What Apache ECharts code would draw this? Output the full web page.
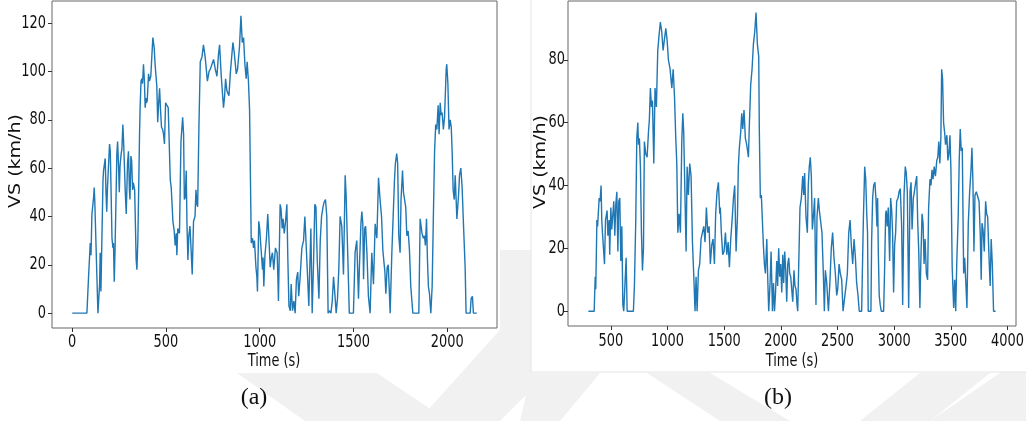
<!DOCTYPE html>
<html>
<head>
<meta charset="utf-8">
<script src="https://cdn.jsdelivr.net/npm/echarts@6/dist/echarts.min.js"></script>
<style>
  html, body { margin: 0; padding: 0; background: #fff; }
  #chart { width: 1026px; height: 421px; }
</style>
</head>
<body>
<div id="chart"></div>
<script>
////////////////////
// data (a)
////////////////////
var timeA = [0,78,80,87,96,100,105,114,117,120,124,137,146,149,153,158,164,167,176,180,184,188,199,203,212,217,220,224,228,238,242,247,251,255,261,265,270,274,283,288,295,300,305,308,313,317,322,326,333,341,345,350,359,362,367,371,375,380,385,389,394,396,400,407,412,419,430,437,442,451,456,461,466,471,476,482,487,492,498,505,512,523,528,537,544,549,555,558,563,568,572,580,589,594,598,603,608,612,617,622,628,633,640,647,655,660,665,669,676,683,692,700,709,721,730,737,742,754,763,772,780,786,795,807,813,818,825,836,843,857,864,875,882,892,900,907,914,921,928,933,940,946,955,962,967,972,980,985,988,995,1000,1006,1015,1018,1022,1028,1036,1043,1048,1056,1062,1068,1075,1084,1093,1097,1100,1109,1114,1120,1125,1131,1138,1145,1150,1156,1163,1168,1175,1182,1189,1196,1203,1208,1215,1225,1234,1241,1248,1255,1262,1268,1273,1280,1287,1294,1300,1307,1316,1323,1330,1338,1344,1351,1358,1365,1372,1380,1387,1394,1401,1408,1415,1422,1429,1438,1447,1456,1461,1474,1478,1500,1509,1514,1518,1527,1532,1540,1545,1550,1554,1560,1565,1572,1580,1589,1598,1607,1616,1625,1634,1642,1650,1657,1663,1668,1673,1680,1686,1696,1705,1714,1719,1724,1731,1736,1742,1749,1754,1762,1767,1774,1779,1785,1792,1799,1806,1817,1849,1856,1861,1866,1873,1879,1884,1890,1895,1900,1906,1913,1920,1927,1933,1939,1945,1952,1957,1963,1968,1973,1980,1986,1991,1995,1998,2004,2010,2016,2022,2027,2032,2038,2043,2052,2061,2066,2073,2080,2087,2096,2101,2123,2128,2135,2140,2158];
var speedA = [0,0,3,15,29,24,41,48,52,47,47,0,12,25,9,9,55,59,64,50,42,52,70,67,31,27,29,13,25,66,71,61,50,61,66,68,78,71,50,41,62,67,51,47,65,63,51,54,51,22,18,30,74,85,96,97,95,103,96,85,89,87,88,99,96,98,114,110,103,94,79,87,93,84,77,76,74,70,87,86,85,55,52,38,34,28,33,24,35,34,33,71,81,74,47,48,59,37,22,32,36,28,16,38,40,51,45,44,78,104,106,111,106,96,100,101,101,105,101,98,107,111,98,85,90,97,92,90,99,112,108,99,101,110,123,112,114,103,97,104,96,84,29,31,27,30,19,15,9,38,35,28,18,23,11,24,31,41,33,19,23,25,18,27,25,15,5,45,43,35,39,33,38,45,23,3,1,12,1,5,0,14,17,7,14,27,30,40,40,16,3,21,35,0,20,45,44,22,6,30,40,44,46,47,40,0,1,0,5,15,8,0,6,18,40,36,16,57,49,12,0,0,25,28,30,6,19,37,42,37,14,35,36,25,7,0,25,12,37,31,56,47,40,26,21,17,8,19,20,0,25,25,55,62,66,62,32,25,47,59,50,50,44,32,34,26,11,0,0,39,36,33,31,32,28,39,22,11,8,0,11,42,67,78,76,86,74,87,82,83,76,81,92,101,103,95,76,80,77,66,51,47,57,39,49,57,60,52,37,19,0,0,6,7,0,0];

////////////////////
// data (b)
////////////////////
var timeB = [302,353,362,367,377,383,397,405,414,420,426,444,453,467,474,485,490,500,508,526,535,544,553,562,570,579,588,597,606,614,626,635,644,699,708,720,729,738,744,752,761,770,779,788,796,808,820,832,840,849,858,867,879,890,902,914,926,937,949,961,973,985,997,1008,1023,1038,1050,1062,1073,1082,1091,1102,1114,1126,1135,1143,1155,1164,1173,1184,1196,1208,1220,1232,1243,1252,1261,1273,1284,1296,1308,1320,1331,1343,1355,1367,1378,1390,1402,1414,1425,1437,1449,1461,1466,1475,1487,1499,1511,1523,1535,1546,1558,1570,1582,1593,1605,1617,1625,1634,1646,1655,1664,1675,1687,1699,1714,1722,1734,1746,1758,1770,1781,1793,1805,1810,1819,1828,1837,1846,1855,1864,1876,1884,1893,1905,1914,1926,1935,1944,1952,1964,1972,1981,1990,1999,2008,2017,2025,2034,2043,2052,2061,2070,2078,2087,2096,2105,2116,2125,2134,2143,2149,2158,2169,2181,2193,2202,2210,2222,2234,2242,2251,2260,2269,2278,2287,2298,2310,2319,2331,2340,2352,2363,2375,2384,2393,2405,2420,2434,2445,2457,2469,2481,2493,2502,2514,2525,2537,2549,2566,2575,2587,2599,2611,2622,2634,2646,2658,2669,2681,2692,2713,2728,2740,2749,2758,2765,2771,2795,2801,2810,2819,2830,2839,2848,2854,2860,2868,2877,2886,2907,2916,2925,2930,2939,2948,2960,2969,2978,2986,2995,3004,3013,3022,3034,3043,3054,3066,3075,3087,3098,3107,3116,3128,3140,3149,3158,3169,3178,3190,3199,3208,3217,3227,3236,3246,3255,3264,3273,3284,3295,3304,3316,3325,3334,3343,3353,3364,3376,3385,3394,3403,3412,3419,3427,3436,3445,3453,3465,3474,3483,3492,3501,3512,3525,3534,3543,3552,3565,3574,3583,3592,3601,3613,3622,3631,3642,3654,3666,3678,3686,3695,3704,3713,3725,3737,3749,3760,3768,3775,3784,3795,3807,3816,3825,3837,3847,3856,3866,3877,3895];
var speedB = [0,0,11,7,29,27,36,35,40,29,25,15,29,32,24,29,18,33,26,35,24,34,38,19,35,36,16,27,2,0,0,17,0,0,8,29,55,60,53,55,46,25,13,20,54,50,49,57,61,71,65,67,47,71,65,83,88,92,89,83,83,90,86,80,77,71,77,68,55,47,25,31,25,54,63,57,35,19,46,37,47,43,22,11,0,11,0,13,15,23,25,27,22,33,25,27,15,21,23,15,31,38,41,31,33,25,18,19,25,18,22,14,23,29,36,40,19,30,46,52,57,63,58,64,55,53,49,59,72,77,85,89,95,85,81,58,36,37,29,21,15,12,23,11,0,9,19,0,9,0,5,16,8,20,11,15,6,18,9,19,13,3,15,17,12,11,7,3,13,8,7,2,0,15,33,36,43,37,44,30,25,40,46,49,43,26,30,36,2,30,36,32,32,25,12,0,13,9,0,10,20,25,17,12,5,7,15,12,10,0,0,8,12,25,29,21,15,23,17,9,5,0,0,29,46,42,31,25,0,0,22,36,40,41,36,27,36,19,5,2,0,0,14,31,32,27,33,16,36,32,25,6,21,25,35,36,38,39,27,2,37,46,44,38,1,38,41,26,36,38,41,43,28,19,1,17,31,28,15,23,12,10,33,42,40,45,42,46,43,48,49,54,47,55,77,74,60,57,53,56,48,50,56,45,14,1,10,0,15,30,48,58,51,52,12,17,10,1,28,38,45,52,41,19,37,38,38,35,24,10,28,26,19,35,31,30,17,8,23,15,0,0];

// tick labels
var xTicksA = [0, 500, 1000, 1500, 2000];
var yTicksA = [0, 20, 40, 60, 80, 100, 120];
var xTicksB = [500, 1000, 1500, 2000, 2500, 3000, 3500, 4000];
var yTicksB = [0, 20, 40, 60, 80];

function pairs(t, v){
    var out = [];
    for(var i = 0; i < t.length; i++){
        out.push([t[i], v[i]]);
    }
    return out;
}

var font = "'DejaVu Sans', sans-serif";
var squeeze = 0.72;   // the source picture is narrow, so the labels are too
var lineColor = '#1f77b4';

function makeX(idx, min, max, ticks){
    return {
        type: 'value', gridIndex: idx, min: min, max: max,
        axisLine: { show: false, onZero: false },
        axisTick: { show: true, length: 4, customValues: ticks, lineStyle: { color: '#333' } },
        axisLabel: { show: false, customValues: ticks },
        splitLine: { show: false }
    };
}
function makeY(idx, min, max, ticks){
    return {
        type: 'value', gridIndex: idx, min: min, max: max,
        axisLine: { show: false, onZero: false },
        axisTick: { show: true, length: 4, customValues: ticks, lineStyle: { color: '#333' } },
        axisLabel: { show: false, customValues: ticks },
        splitLine: { show: false }
    };
}

function label(x, y, text, align, vAlign, size){
    return {
        type: 'text', z: 10, silent: true, x: x, y: y, scaleX: squeeze,
        style: { text: text, font: size + 'px ' + font, fill: '#111', align: align, verticalAlign: vAlign }
    };
}
function yName(x, y){
    // rotated axis title; its glyph height is squeezed like the rest of the picture
    return {
        type: 'text', z: 10, silent: true, x: x, y: y, rotation: Math.PI / 2, scaleY: 0.8,
        style: { text: 'VS (km/h)', font: '19px ' + font, fill: '#111', align: 'center', verticalAlign: 'middle' }
    };
}

var decor = [
    // watermark
    { type: 'polygon', z: -20, silent: true, shape: { points: [[237,373],[377,373],[448,421],[305,421]] }, style: { fill: '#f1f1f1' } },
    { type: 'polygon', z: -20, silent: true, shape: { points: [[418,421],[500,421],[531,390],[531,250],[500,250],[500,330]] }, style: { fill: '#f1f1f1' } },
    { type: 'polygon', z: -20, silent: true, shape: { points: [[520,421],[560,421],[600,373],[531,373]] }, style: { fill: '#f1f1f1' } },
    { type: 'polygon', z: -20, silent: true, shape: { points: [[647,373],[710,373],[790,421],[720,421]] }, style: { fill: '#f1f1f1' } },
    { type: 'polygon', z: -20, silent: true, shape: { points: [[860,421],[930,421],[990,373],[920,373]] }, style: { fill: '#f1f1f1' } },
    { type: 'polygon', z: -20, silent: true, shape: { points: [[930,421],[1026,421],[1026,330],[1000,373]] }, style: { fill: '#f1f1f1' } },
    // frame of panel (b)
    { type: 'rect', z: -10, silent: true, shape: { x: 531, y: -1, width: 497, height: 373 }, style: { fill: '#fff', stroke: '#e4e4e4', lineWidth: 1 } },
    // sub captions
    { type: 'text', z: 10, x: 254, y: 398, style: { text: '(a)', font: "24px 'Liberation Serif', serif", fill: '#111', align: 'center', verticalAlign: 'middle' } },
    { type: 'text', z: 10, x: 778, y: 398, style: { text: '(b)', font: "24px 'Liberation Serif', serif", fill: '#111', align: 'center', verticalAlign: 'middle' } },
    label(274, 361, 'Time (s)', 'center', 'middle', 18),
    label(792, 361, 'Time (s)', 'center', 'middle', 18),
    yName(16, 161),
    yName(541, 162)
];

var mychart = echarts.init(document.getElementById('chart'), null, { renderer: 'canvas' });
var chart_option = {
    animation: false,
    backgroundColor: '#fff',
    grid: [
        { left: 52, top: 1, width: 445, height: 327, show: true, backgroundColor: '#fff', borderColor: '#666', borderWidth: 1 },
        { left: 568, top: 1, width: 448, height: 325, show: true, backgroundColor: '#fff', borderColor: '#666', borderWidth: 1 }
    ],
    xAxis: [
        makeX(0, -108, 2266, xTicksA),
        makeX(1, 122, 4075, xTicksB)
    ],
    yAxis: [
        makeY(0, -6.15, 129.15, yTicksA),
        makeY(1, -4.7, 98.7, yTicksB)
    ],
    graphic: decor,
    series: [
        {
            name: 'a', type: 'line', xAxisIndex: 0, yAxisIndex: 0,
            showSymbol: false, data: pairs(timeA, speedA),
            lineStyle: { color: lineColor, width: 1.4 }, itemStyle: { color: lineColor }
        },
        {
            name: 'b', type: 'line', xAxisIndex: 1, yAxisIndex: 1,
            showSymbol: false, data: pairs(timeB, speedB),
            lineStyle: { color: lineColor, width: 1.4 }, itemStyle: { color: lineColor }
        }
    ]
};
mychart.setOption(chart_option);

/////////////////////////
// tick labels placed through the axes' own scales
/////////////////////////
var tickLabels = [];
xTicksA.forEach(function(v){
    tickLabels.push(label(mychart.convertToPixel({ xAxisIndex: 0 }, v), 342, String(v), 'center', 'middle', 18));
});
xTicksB.forEach(function(v){
    tickLabels.push(label(mychart.convertToPixel({ xAxisIndex: 1 }, v), 341, String(v), 'center', 'middle', 18));
});
yTicksA.forEach(function(v){
    tickLabels.push(label(46, mychart.convertToPixel({ yAxisIndex: 0 }, v), String(v), 'right', 'middle', 18));
});
yTicksB.forEach(function(v){
    tickLabels.push(label(565, mychart.convertToPixel({ yAxisIndex: 1 }, v), String(v), 'right', 'middle', 18));
});
mychart.setOption({ graphic: decor.concat(tickLabels) });
</script>
</body>
</html>
